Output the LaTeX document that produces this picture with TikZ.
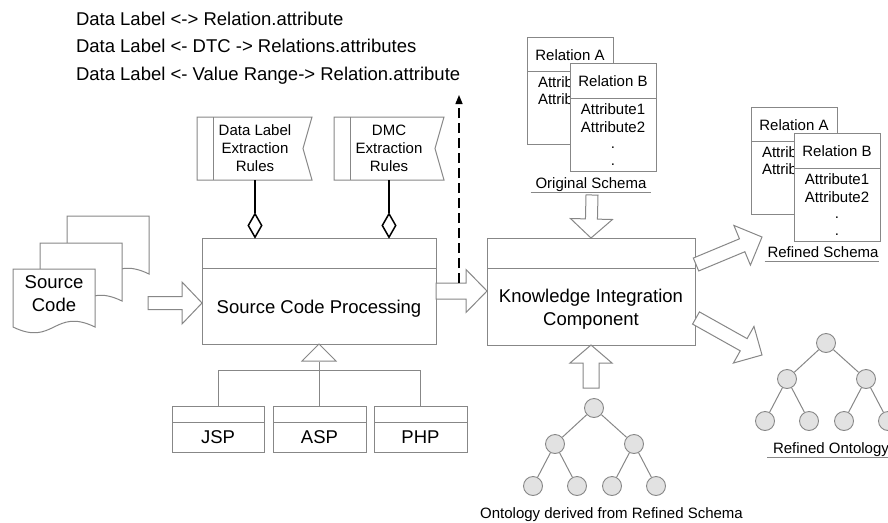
\documentclass[tikz,border=0pt]{standalone}
\usepackage{fontspec}
\setmainfont{Liberation Sans}
\usetikzlibrary{calc,arrows.meta,shapes.geometric}
\definecolor{lg}{RGB}{135,135,135}
\definecolor{cf}{RGB}{226,226,226}
% block arrow: #1 start, #2 tip, #3 shaft half width, #4 head half width, #5 head length
\newcommand\blockarrow[5]{%
  \coordinate (abase) at ($(#2)!#5!(#1)$);
  \draw[boxline, fill=white, line join=miter]
    ($(#1)!#3!90:(#2)$) -- ($(abase)!#3!90:(#2)$) -- ($(abase)!#4!90:(#2)$) -- (#2)
    -- ($(abase)!#4!-90:(#2)$) -- ($(abase)!#3!-90:(#2)$) -- ($(#1)!#3!-90:(#2)$) -- cycle;
}
\newcommand\relpair[1]{%
  \node[box, minimum width=86pt, minimum height=107pt, anchor=north west] (#1A) at (527,37) {};
  \draw[boxline] ([yshift=-34pt]#1A.north west) -- ([yshift=-34pt]#1A.north east);
  \node[txt,small,anchor=base] (#1An) at (570,60) {Relation A};
  \node[txt,small,anchor=base west] (#1Aa) at (538,87) {Attrib};
  \node[txt,small,anchor=base west] (#1Ab) at (538,104.5) {Attrib};
  \node[box, minimum width=86pt, minimum height=108pt, anchor=north west] (#1B) at (570,63) {};
  \draw[boxline] ([yshift=-35pt]#1B.north west) -- ([yshift=-35pt]#1B.north east);
  \node[txt,small,anchor=base] (#1Bn) at (613,86.7) {Relation B};
  \node[txt,small,anchor=base] (#1Ba) at (613,114.3) {Attribute1};
  \node[txt,small,anchor=base] (#1Bb) at (613,132) {Attribute2};
  \node[txt,small,anchor=base] (#1Bc) at (613,148) {.};
  \node[txt,small,anchor=base] (#1Bd) at (613,165.5) {.};
}
% tree: #1 prefix, #2 root x, #3 root y
\newcommand\ontotree[3]{%
  \begin{scope}[shift={(#2,#3)}]
    \node[circ] (#1r) at (0,0) {};
    \node[circ] (#1a) at (-39,36) {};
    \node[circ] (#1b) at (40,36) {};
    \node[circ] (#1c) at (-61,78) {};
    \node[circ] (#1d) at (-17,78) {};
    \node[circ] (#1e) at (18,78) {};
    \node[circ] (#1f) at (62,78) {};
  \end{scope}
  \draw[treeline] (#1r) -- (#1a);
  \draw[treeline] (#1r) -- (#1b);
  \draw[treeline] (#1a) -- (#1c);
  \draw[treeline] (#1a) -- (#1d);
  \draw[treeline] (#1b) -- (#1e);
  \draw[treeline] (#1b) -- (#1f);
}
\begin{document}
\begin{tikzpicture}[x=1pt,y=-1pt,
  boxline/.style={draw=lg, line width=1pt},
  box/.style={boxline, fill=white, rectangle, inner sep=0pt, outer sep=0pt},
  txt/.style={inner sep=0pt, outer sep=0pt},
  big/.style={font=\fontsize{18.5}{22.3}\selectfont},
  small/.style={font=\fontsize{15}{17.8}\selectfont},
  circ/.style={circle, draw=lg, fill=cf, line width=0.9pt, minimum size=19pt, inner sep=0pt},
  treeline/.style={draw=lg, line width=1pt},
  assoc/.style={draw=black, line width=1.8pt},
  dia/.style={diamond, draw=black, line width=1.5pt, fill=white, minimum width=14pt, minimum height=24pt, inner sep=0pt},
  dashline/.style={draw=black, line width=1.4pt, dash pattern=on 10pt off 5pt, -{Triangle[length=9pt,width=7pt]}}
]
\useasboundingbox (0,0) rectangle (888,522);
\clip (0,0) rectangle (888,522);

% top text
\node[txt,big,anchor=base west] (l1) at (76,25) {Data Label <-> Relation.attribute};
\node[txt,big,anchor=base west] (l2) at (76,52.5) {Data Label <- DTC -> Relations.attributes};
\node[txt,big,anchor=base west] (l3) at (76,80) {Data Label <- Value Range-> Relation.attribute};

% source code documents
\draw[boxline, fill=white] (67,216) -- (149,216) -- (149,274) .. controls (108,254) and (108,294) .. (67,274) -- cycle;
\draw[boxline, fill=white] (40,243) -- (122,243) -- (122,301) .. controls (81,281) and (81,321) .. (40,301) -- cycle;
\draw[boxline, fill=white] (13,269) -- (95,269) -- (95,327) .. controls (54,307) and (54,347) .. (13,327) -- cycle;
\node[txt,big,align=center,anchor=north] (sc) at (54,276) {Source\\Code};

% rule flags
\draw[boxline, fill=white] (197,117) -- (312,117) -- (303,148.5) -- (312,180) -- (197,180) -- cycle;
\draw[boxline] (213,117) -- (213,180);
\node[txt,small,align=center,anchor=north] (f1t) at (255,125) {Data Label\\Extraction\\Rules};
\coordinate (f1b) at (255,180);
\draw[boxline, fill=white] (334,117) -- (444,117) -- (435,148.5) -- (444,180) -- (334,180) -- cycle;
\draw[boxline] (350,117) -- (350,180);
\node[txt,small,align=center,anchor=north] (f2t) at (389,125) {DMC\\Extraction\\Rules};
\coordinate (f2b) at (389,180);

% source code processing
\node[box, minimum width=234pt, minimum height=106pt, anchor=north west] (scp) at (202,238) {};
\draw[boxline] ([yshift=-30pt]scp.north west) -- ([yshift=-30pt]scp.north east);
\node[txt,big,anchor=base] (scpt) at (319,313) {Source Code Processing};

% diamonds
\node[dia] (d1) at (255,225.5) {};
\node[dia] (d2) at (389,225.5) {};
\draw[assoc] (f1b) -- (d1.north);
\draw[assoc] (f2b) -- (d2.north);

% language boxes
\node[box, minimum width=92pt, minimum height=46pt, anchor=north west] (jsp) at (172,406) {};
\draw[boxline] ([yshift=-16pt]jsp.north west) -- ([yshift=-16pt]jsp.north east);
\node[txt,big,anchor=base] at (218,443) {JSP};
\node[box, minimum width=93pt, minimum height=46pt, anchor=north west] (asp) at (273,406) {};
\draw[boxline] ([yshift=-16pt]asp.north west) -- ([yshift=-16pt]asp.north east);
\node[txt,big,anchor=base] at (319.5,443) {ASP};
\node[box, minimum width=93pt, minimum height=46pt, anchor=north west] (php) at (374,406) {};
\draw[boxline] ([yshift=-16pt]php.north west) -- ([yshift=-16pt]php.north east);
\node[txt,big,anchor=base] at (420.5,443) {PHP};

% inheritance
\coordinate (tribase) at (319.5,362);
\coordinate (bar) at (319.5,370);
\draw[boxline] (tribase) -- (asp.north);
\draw[boxline] (jsp.north) -- (jsp.north |- bar) -- (php.north |- bar) -- (php.north);
\draw[boxline, fill=white] (scp.south) -- ++(17,17) -- ++(-34,0) -- cycle;

% knowledge integration component
\node[box, minimum width=208pt, minimum height=107pt, anchor=north west] (kic) at (487,238) {};
\draw[boxline] ([yshift=-30pt]kic.north west) -- ([yshift=-30pt]kic.north east);
\node[txt,big,align=center,anchor=north] (kict) at (591,289.5) {Knowledge Integration\\Component};

% original schema
\relpair{o}
\node[txt,small,anchor=base] (os) at (591,188) {Original Schema};
\draw[boxline] ($(os.base west)+(-5,4)$) -- ($(os.base east)+(5,4)$);

% refined schema
\begin{scope}[shift={(224,70)}]
\relpair{r}
\end{scope}
\node[txt,small,anchor=base] (rs) at (823,257) {Refined Schema};
\draw[boxline] ($(rs.base west)+(-3,4)$) -- ($(rs.base east)+(1,4)$);

% trees
\ontotree{t}{594}{408}
\node[txt,small,anchor=base] (tt) at (611.5,518) {Ontology derived from Refined Schema};
\ontotree{u}{826}{343}
\node[txt,small,anchor=base west] (ut) at (773,453) {Refined Ontology};
\draw[boxline] ($(ut.base west)+(-6,4)$) -- ($(ut.base east)+(4,4)$);

% block arrows
\coordinate (a1s) at (148,303); \coordinate (a1t) at (scp.west |- a1s);
\blockarrow{a1s}{a1t}{6.5pt}{21pt}{20pt}
\coordinate (a2s) at (436,291); \coordinate (a2t) at (kic.west |- a2s);
\blockarrow{a2s}{a2t}{8pt}{21.5pt}{21pt}
\coordinate (a3s) at (592,195); \coordinate (a3t) at (kic.north);
\blockarrow{a3s}{a3t}{6pt}{21pt}{19pt}
\coordinate (a4s) at (591,388); \coordinate (a4t) at (kic.south);
\blockarrow{a4s}{a4t}{8pt}{21pt}{18pt}
\coordinate (a5s) at (696,264.5); \coordinate (a5t) at (762,237);
\blockarrow{a5s}{a5t}{7pt}{21.5pt}{21.5pt}
\coordinate (a6s) at (696,318); \coordinate (a6t) at (762,355);
\blockarrow{a6s}{a6t}{7pt}{21pt}{21pt}

% dashed arrow
\coordinate (ds) at (459,283);
\coordinate (de) at (459,95);
\draw[dashline] (ds) -- (de);
\end{tikzpicture}
\end{document}
